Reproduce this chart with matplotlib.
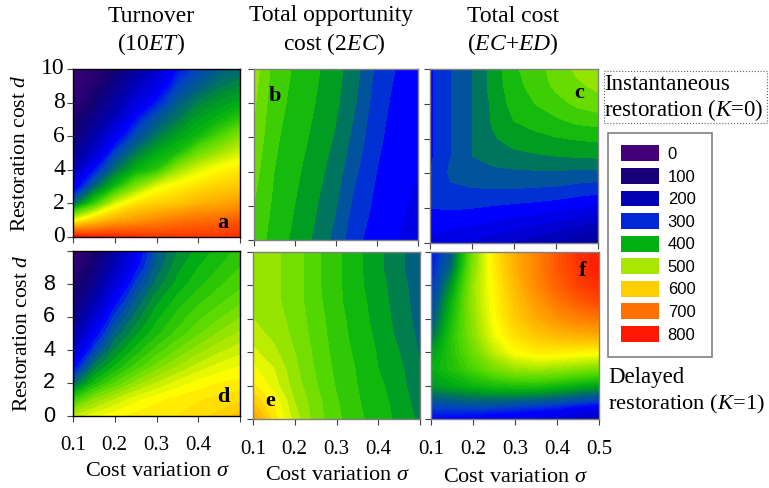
import numpy as np
import matplotlib
matplotlib.use('Agg')
import matplotlib.pyplot as plt
from matplotlib.colors import LinearSegmentedColormap
from matplotlib.patches import Patch, Rectangle

plt.rcParams['font.family'] = 'Liberation Serif'
plt.rcParams['mathtext.fontset'] = 'custom'
plt.rcParams['mathtext.rm'] = 'Liberation Serif'
plt.rcParams['mathtext.it'] = 'Liberation Serif:italic'

W, H = 769, 488

sigma = [0.1, 0.15, 0.2, 0.25, 0.3, 0.35, 0.4, 0.45, 0.5]
d_full = [10, 9, 8, 7, 6, 5, 4, 3, 2, 1, 0]
d_coarse = [10, 8, 6, 4, 2, 0]

turnover_inst = [
    [15, 50, 100, 170, 225, 295, 325, 345, 355],
    [30, 75, 140, 210, 260, 320, 345, 365, 375],
    [50, 100, 180, 250, 300, 345, 370, 385, 395],
    [75, 145, 220, 295, 340, 365, 390, 405, 430],
    [100, 190, 270, 330, 365, 390, 410, 445, 480],
    [150, 230, 320, 365, 395, 415, 465, 495, 520],
    [200, 295, 360, 400, 425, 490, 525, 550, 565],
    [270, 350, 410, 475, 530, 555, 575, 590, 600],
    [350, 430, 520, 570, 590, 600, 625, 635, 650],
    [530, 590, 630, 650, 670, 690, 700, 705, 725],
    [800, 780, 780, 770, 760, 760, 760, 760, 770],
]
opportunity_inst = [
    [490, 440, 422, 405, 385, 358, 320, 298, 285],
    [480, 435, 418, 400, 380, 350, 312, 292, 280],
    [470, 430, 412, 394, 372, 340, 305, 290, 278],
    [460, 425, 406, 386, 362, 328, 300, 286, 275],
    [450, 420, 400, 378, 352, 315, 294, 280, 270],
    [440, 415, 394, 370, 342, 305, 290, 275, 262],
]
total_inst = [
    [295, 325, 350, 385, 420, 440, 460, 480, 495],
    [295, 325, 350, 385, 415, 435, 455, 470, 480],
    [295, 325, 350, 380, 410, 425, 440, 455, 465],
    [295, 325, 350, 378, 400, 410, 420, 430, 435],
    [295, 325, 350, 372, 385, 392, 398, 402, 405],
    [295, 325, 350, 362, 368, 372, 375, 378, 380],
    [300, 330, 340, 342, 344, 345, 345, 342, 340],
    [310, 320, 322, 322, 322, 320, 318, 312, 308],
    [300, 302, 300, 296, 292, 288, 282, 275, 265],
    [285, 280, 275, 268, 260, 252, 240, 225, 212],
    [265, 255, 245, 232, 220, 208, 195, 180, 160],
]
turnover_delay = [
    [20, 90, 180, 270, 340, 375, 395, 410, 425],
    [40, 115, 210, 290, 350, 385, 405, 420, 435],
    [70, 150, 245, 320, 365, 395, 415, 432, 445],
    [100, 190, 285, 345, 385, 410, 430, 445, 460],
    [130, 235, 320, 365, 400, 425, 445, 462, 478],
    [175, 280, 350, 385, 415, 440, 462, 482, 498],
    [225, 320, 375, 410, 440, 465, 487, 505, 518],
    [285, 365, 405, 440, 470, 495, 515, 530, 540],
    [350, 410, 450, 485, 510, 530, 545, 555, 560],
    [430, 480, 510, 535, 550, 560, 568, 575, 580],
    [510, 535, 550, 560, 565, 570, 580, 590, 610],
]
opportunity_delay = [
    [490, 485, 470, 445, 425, 405, 385, 365, 345],
    [490, 485, 470, 445, 425, 405, 385, 365, 345],
    [495, 485, 470, 445, 425, 405, 388, 368, 348],
    [495, 485, 470, 447, 425, 408, 390, 370, 350],
    [500, 490, 472, 450, 428, 410, 392, 372, 352],
    [510, 495, 475, 452, 430, 412, 395, 375, 355],
    [525, 505, 480, 455, 432, 415, 398, 380, 358],
    [545, 520, 485, 458, 435, 418, 400, 385, 362],
    [565, 530, 490, 462, 438, 420, 405, 388, 365],
    [600, 555, 500, 468, 442, 422, 408, 392, 370],
    [650, 570, 510, 470, 445, 425, 410, 395, 375],
]
total_delay = [
    [295, 345, 470, 565, 630, 675, 725, 770, 780],
    [300, 360, 480, 560, 625, 675, 725, 760, 790],
    [310, 385, 490, 555, 615, 670, 715, 750, 770],
    [320, 405, 490, 550, 605, 650, 690, 720, 740],
    [335, 415, 485, 545, 595, 630, 660, 680, 690],
    [355, 425, 480, 535, 575, 600, 615, 625, 630],
    [385, 425, 465, 510, 545, 560, 560, 555, 550],
    [400, 420, 445, 470, 490, 495, 490, 480, 470],
    [385, 395, 405, 415, 420, 420, 410, 400, 390],
    [335, 340, 345, 345, 340, 335, 330, 320, 310],
    [290, 285, 280, 270, 265, 255, 240, 220, 190],
]

legend_labels = ['0', '100', '200', '300', '400', '500', '600', '700', '800']
legend_colors = ['#450078', '#16007a', '#0000b4', '#0028d8', '#00b010',
                 '#a8e800', '#ffd000', '#ff7000', '#ff1800']

stops = [(0, '#450078'), (100, '#140070'), (200, '#0000b0'), (290, '#0000ff'),
         (320, '#0040c8'), (350, '#006080'), (380, '#009030'), (400, '#00b010'),
         (450, '#50d800'), (500, '#a8e800'), (545, '#ffff00'), (600, '#ffc800'),
         (700, '#ff7000'), (800, '#ff1000')]
cmap = LinearSegmentedColormap.from_list('rest', [(v / 800, c) for v, c in stops], N=512)


def px_axes(x0, x1, y0, y1):
    return fig.add_axes([x0 / W, 1 - y1 / H, (x1 - x0) / W, (y1 - y0) / H])


def px_text(x, y, s, **kw):
    fig.text(x / W, 1 - y / H, s, **kw)


def panel(box, vals, ds, step, letter, letter_pos, spine='#808080'):
    ax = px_axes(*box)
    levels = np.arange(-step, 850, step)
    ax.contourf(sigma, ds, np.array(vals), levels=levels, cmap=cmap, vmin=0, vmax=800,
                antialiased=False)
    ax.set_xlim(0.1, 0.5)
    ax.set_ylim(0, 10)
    ax.set_xticks([0.1, 0.2, 0.3, 0.4, 0.5])
    ax.set_yticks([0, 2, 4, 6, 8, 10])
    ax.set_xticklabels([])
    ax.set_yticklabels([])
    ax.tick_params(length=4, width=0.8, color='#404040')
    for s in ax.spines.values():
        s.set_color(spine)
        s.set_linewidth(1)
    ax.text(letter_pos[0], letter_pos[1], letter, transform=ax.transAxes, fontsize=16,
            fontweight='bold', ha='center', va='center')
    return ax


fig = plt.figure(figsize=(W / 100, H / 100), dpi=100)

ax_a = panel((73, 240, 69, 237), turnover_inst, d_full, 8, 'a', (0.90, 0.085), spine='black')
ax_b = panel((253.5, 417.5, 69, 240), opportunity_inst, d_coarse, 25, 'b', (0.13, 0.84))
ax_c = panel((430, 598, 69, 243), total_inst, d_full, 25, 'c', (0.89, 0.86))
ax_d = panel((73, 240, 251, 416), turnover_delay, d_full, 15, 'd', (0.90, 0.115), spine='black')
ax_e = panel((253, 420, 252, 419), opportunity_delay, d_full, 20, 'e', (0.10, 0.11))
ax_f = panel((431, 599, 252, 419), total_delay, d_full, 8, 'f', (0.90, 0.885))

# y tick labels, top row serif, bottom row sans like the original
for v in [0, 2, 4, 6, 8, 10]:
    ax_a.annotate(str(v), (0, v), xycoords=('axes fraction', 'data'), xytext=(-8, 0),
                  textcoords='offset pixels', ha='right', va='center', fontsize=17)
for v in [0, 2, 4, 6, 8]:
    ax_d.annotate(str(v), (0, v), xycoords=('axes fraction', 'data'), xytext=(-18, 0),
                  textcoords='offset pixels', ha='right', va='center', fontsize=15.5,
                  family='Liberation Sans')

# x tick labels
for ax, vals, yoff in [(ax_d, [0.1, 0.2, 0.3, 0.4], 29), (ax_e, [0.1, 0.2, 0.3, 0.4], 31),
                       (ax_f, [0.1, 0.2, 0.3, 0.4, 0.5], 31)]:
    for v in vals:
        ax.annotate(f'{v:.1f}', (v, 0), xycoords=('data', 'axes fraction'), xytext=(0, -yoff),
                    textcoords='offset pixels', ha='center', va='center', fontsize=15)

# column titles
px_text(151, 16, 'Turnover', fontsize=17, ha='center', va='center')
px_text(151, 44, r'(10$ET$)', fontsize=17, ha='center', va='center')
px_text(331, 16, 'Total opportunity', fontsize=17, ha='center', va='center')
px_text(334, 44, r'cost (2$EC$)', fontsize=17, ha='center', va='center')
px_text(513, 16, 'Total cost', fontsize=17, ha='center', va='center')
px_text(513, 44, r'($EC$+$ED$)', fontsize=17, ha='center', va='center')

# axis titles
px_text(21, 153, r'Restoration cost $d$', fontsize=15.5, rotation=90, ha='center', va='center')
px_text(23, 333, r'Restoration cost $d$', fontsize=15.5, rotation=90, ha='center', va='center')
px_text(157.5, 472, r'Cost variation $\sigma$', fontsize=16, ha='center', va='center')
px_text(337, 475, r'Cost variation $\sigma$', fontsize=16, ha='center', va='center')
px_text(515.5, 478, r'Cost variation $\sigma$', fontsize=16, ha='center', va='center')

# K=0 note with dotted frame
fig.add_artist(Rectangle((604 / W, 1 - 123 / H), 163 / W, 52 / H, transform=fig.transFigure,
                         fill=False, ec='#606060', lw=0.8, ls=':'))
px_text(604, 84, 'Instantaneous', fontsize=16.5, ha='left', va='center')
px_text(604, 110, r'restoration ($K$=0)', fontsize=16.5, ha='left', va='center')
px_text(608, 378, 'Delayed', fontsize=16.5, ha='left', va='center')
px_text(608, 404, r'restoration ($K$=1)', fontsize=16.2, ha='left', va='center')

# legend frame is a bit wider than the legend itself
fig.add_artist(Rectangle((608 / W, 1 - 357 / H), 104 / W, 224 / H, transform=fig.transFigure,
                         fc='white', ec='#808080', lw=1.2))
handles = [Patch(fc=c, ec='none') for c in legend_colors]
leg = fig.legend(handles, legend_labels, loc='upper left',
                 bbox_to_anchor=(608 / W, 1 - 133 / H), bbox_transform=fig.transFigure,
                 prop={'family': 'Liberation Sans', 'size': 12}, frameon=False,
                 borderpad=0.75, borderaxespad=0,
                 handlelength=2.28, handleheight=1.08, handletextpad=0.55, labelspacing=0.36)

fig.savefig('out.png', dpi=100)
